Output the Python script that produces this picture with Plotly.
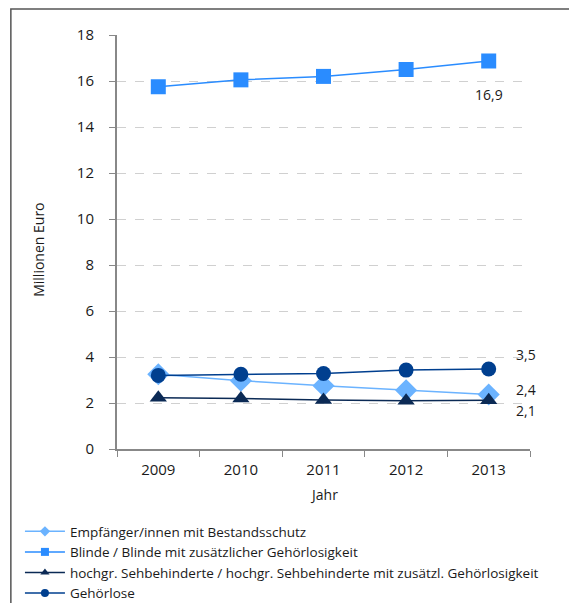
import plotly.graph_objects as go

jahre = ["2009", "2010", "2011", "2012", "2013"]

empfaenger = [3.25, 2.97, 2.75, 2.55, 2.37]
blinde = [15.75, 16.05, 16.2, 16.5, 16.87]
sehbehinderte = [2.23, 2.2, 2.13, 2.1, 2.12]
gehoerlose = [3.2, 3.25, 3.28, 3.43, 3.48]

namen = [
    "Empfänger/innen mit Bestandsschutz",
    "Blinde / Blinde mit zusätzlicher Gehörlosigkeit",
    "hochgr. Sehbehinderte / hochgr. Sehbehinderte mit zusätzl. Gehörlosigkeit",
    "Gehörlose",
]
farben = ["#6BB3FF", "#2A8CFF", "#0B2A55", "#003F8F"]
symbole = ["diamond", "square", "triangle-up", "circle"]
groessen = [17, 15, 15, 15]
reihen = [empfaenger, blinde, sehbehinderte, gehoerlose]

font = "Open Sans"
textfarbe = "#1a1a1a"

data = []
for werte, name, farbe, sym, gr in zip(reihen, namen, farben, symbole, groessen):
    data.append(go.Scatter(x=jahre, y=werte, name=name, mode="lines+markers",
                           showlegend=False,
                           line=dict(color=farbe, width=1.5),
                           marker=dict(symbol=sym, size=gr, color=farbe)))
# kleine Marker nur fuer die Legende
for name, farbe, sym in zip(namen, farben, symbole):
    data.append(go.Scatter(x=[jahre[0]], y=[None], name=name, mode="lines+markers",
                           line=dict(color=farbe, width=1.5),
                           marker=dict(symbol=sym, size=8, color=farbe)))


def fmt(v):
    return ("%.1f" % v).replace(".", ",")


# Datenbeschriftungen am letzten Jahr
labels = [
    dict(y=blinde[-1], xshift=0, yshift=-34),
    dict(y=gehoerlose[-1], xshift=37, yshift=14),
    dict(y=empfaenger[-1], xshift=37, yshift=5),
    dict(y=sehbehinderte[-1], xshift=37, yshift=-10),
]
annotations = [
    dict(x=len(jahre) - 1, y=a["y"], text=fmt(a["y"]), showarrow=False,
         xshift=a["xshift"], yshift=a["yshift"],
         font=dict(family=font, size=14, color=textfarbe))
    for a in labels
]
annotations.append(dict(x=-0.19, y=0.48, xref="paper", yref="paper",
                        xanchor="center", yanchor="middle",
                        text="Millionen Euro", textangle=-90, showarrow=False,
                        font=dict(family=font, size=14, color=textfarbe)))
annotations.append(dict(x=0.5, y=-0.111, xref="paper", yref="paper",
                        xanchor="center", yanchor="middle",
                        text="Jahr", showarrow=False,
                        font=dict(family=font, size=14, color=textfarbe)))

layout = go.Layout(
    width=577, height=603,
    margin=dict(l=109, r=55, t=27, b=162, autoexpand=False),
    paper_bgcolor="white", plot_bgcolor="white",
    font=dict(family=font, size=15, color=textfarbe),
    showlegend=True,
    legend=dict(x=-0.235, y=-0.162, xanchor="left", yanchor="top",
                font=dict(size=13.5), tracegroupgap=0, itemwidth=40),
    xaxis=dict(type="category", tickson="boundaries", ticks="outside",
               ticklen=6, tickcolor="#888888", showline=True, linecolor="#888888",
               linewidth=2, showgrid=False, range=[-0.5, 4.5],
               ticklabelstandoff=6),
    yaxis=dict(range=[0, 18], dtick=2, ticks="outside", ticklen=6,
               tickcolor="#888888", showline=True, linecolor="#888888",
               linewidth=2, gridcolor="#D0D0D0", griddash="dash",
               zeroline=False, ticklabelstandoff=12),
    annotations=annotations,
    shapes=[dict(type="rect", xref="paper", yref="paper",
                 x0=-0.257, x1=1.2, y0=-0.5, y1=1.063,
                 line=dict(color="#555555", width=1.5))],
)

fig = go.Figure(data=data, layout=layout)
fig.write_html("out.html")
